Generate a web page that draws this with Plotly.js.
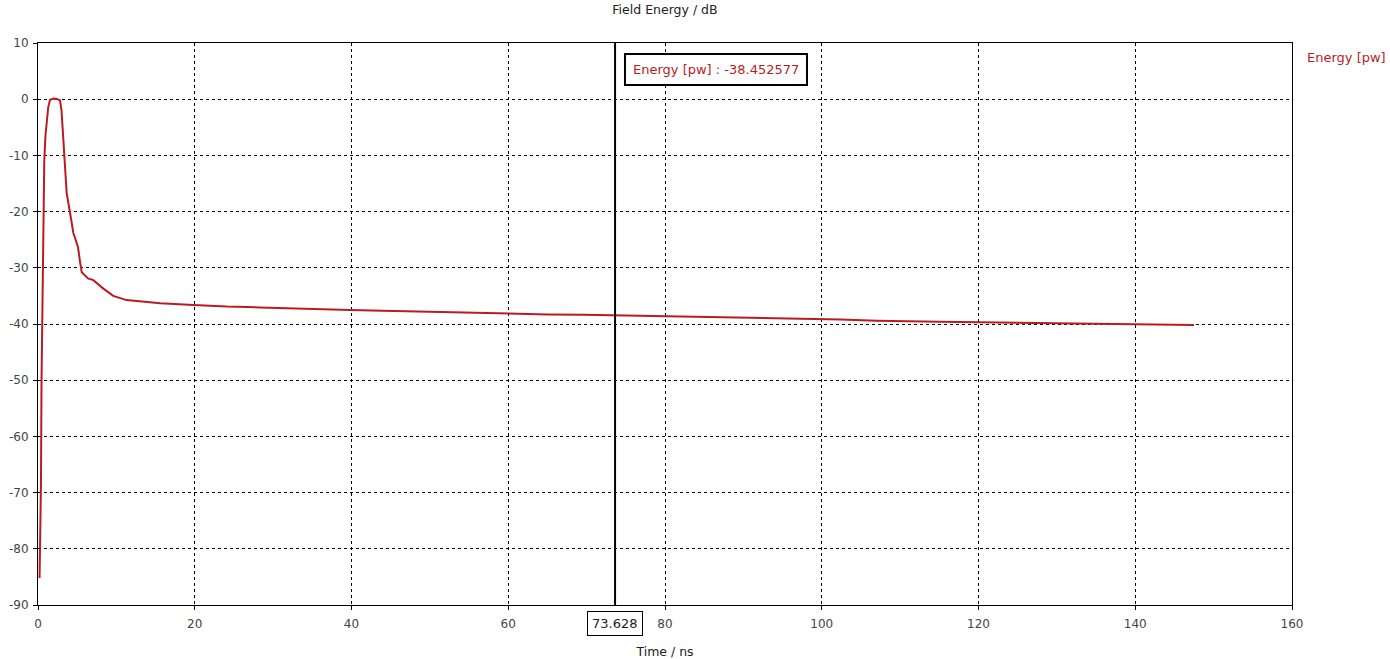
<!DOCTYPE html>
<html>
<head>
<meta charset="utf-8">
<script src="https://cdn.plot.ly/plotly-3.0.1.min.js"></script>
<style>html,body{margin:0;padding:0;background:#fff;}#chart{width:1390px;height:659px;}</style>
</head>
<body>
<div id="chart"></div>
<script>
const seriesName = "Energy [pw]";
const timeNs = [0.2, 0.3, 0.38, 0.45, 0.6, 0.8, 0.95, 1.11, 1.3, 1.53, 2.0, 2.5, 2.81, 3.0, 3.23, 3.45, 3.66, 4.0, 4.51, 4.8, 5.1, 5.35, 5.58, 6.38, 7.06, 8.34, 9.6, 11.3, 13.4, 15.6, 19.8, 24.1, 28.3, 31.3, 35.0, 39.8, 44.0, 48.3, 53.9, 57.5, 61.1, 65.0, 69.6, 73.9, 76.8, 80.0, 86.0, 93.7, 98.0, 102.4, 107.0, 111.1, 115.0, 120.1, 125.0, 130.0, 136.0, 141.0, 147.5];
const energyDb = [-85.2, -78.0, -68.3, -50.0, -28.0, -11.0, -6.5, -4.3, -1.5, -0.1, 0.1, 0.0, -0.2, -2.0, -7.3, -12.0, -16.7, -19.5, -23.8, -25.0, -26.3, -28.8, -30.8, -31.9, -32.2, -33.7, -35.0, -35.75, -36.05, -36.3, -36.6, -36.9, -37.05, -37.2, -37.35, -37.5, -37.65, -37.8, -38.0, -38.1, -38.25, -38.3, -38.35, -38.45, -38.5, -38.7, -38.8, -38.9, -39.05, -39.2, -39.4, -39.55, -39.6, -39.7, -39.8, -39.9, -40.0, -40.1, -40.2];
const cursorTime = 73.628;
const cursorLabel = "73.628";
const cursorValueText = "Energy [pw] : -38.452577";
const xTicks = [0, 20, 40, 60, 80, 100, 120, 140, 160];
const yTicks = [10, 0, -10, -20, -30, -40, -50, -60, -70, -80, -90];

const lineColor = "#b81c22";
const fontFam = "DejaVu Sans, Verdana, sans-serif";

const trace = {
  x: timeNs, y: energyDb, type: "scatter", mode: "lines",
  line: {color: lineColor, width: 2}, name: seriesName, showlegend: false
};

const axisCommon = {
  showline: true, linecolor: "#000", linewidth: 1, mirror: true,
  showgrid: true, gridcolor: "#000", griddash: "3px,3px", gridwidth: 1,
  ticks: "outside", ticklen: 4, tickcolor: "#000",
  zeroline: false, tickfont: {family: fontFam, size: 12, color: "#444"}
};

const layout = {
  width: 1390, height: 659,
  margin: {l: 38, r: 98, t: 43, b: 54},
  paper_bgcolor: "#fff", plot_bgcolor: "#fff",
  title: {text: "Field Energy / dB", font: {family: fontFam, size: 12.5, color: "#222"}, x: 0.4784, xanchor: "center", y: 0.986, yanchor: "middle"},
  xaxis: Object.assign({}, axisCommon, {range: [0, 160], tickvals: xTicks, ticktext: xTicks.map(String),
    ticklabelstandoff: 4,
    title: {text: "Time / ns", font: {family: fontFam, size: 12.5, color: "#222"}, standoff: 18}}),
  yaxis: Object.assign({}, axisCommon, {range: [-90, 10], tickvals: yTicks, ticktext: yTicks.map(String), ticklabelstandoff: 2}),
  shapes: [
    {type: "line", xref: "x", yref: "paper", x0: cursorTime, x1: cursorTime, y0: 0, y1: 1, line: {color: "#000", width: 2}}
  ],
  annotations: [
    {xref: "paper", yref: "paper", x: 1.0105, y: 0.975, xanchor: "left", yanchor: "middle", showarrow: false,
     text: seriesName, font: {family: fontFam, size: 13, color: lineColor}},
    {xref: "x", yref: "paper", x: cursorTime + 1.2, y: 0.953, xanchor: "left", yanchor: "middle", showarrow: false,
     text: cursorValueText, font: {family: fontFam, size: 13, color: lineColor},
     bordercolor: "#000", borderwidth: 2, borderpad: 7, bgcolor: "#fff"},
    {xref: "x", yref: "paper", x: cursorTime, y: -0.033, xanchor: "center", yanchor: "middle", showarrow: false,
     text: cursorLabel, font: {family: fontFam, size: 13, color: "#222"},
     bordercolor: "#000", borderwidth: 1, borderpad: 4, bgcolor: "#fff"}
  ]
};

Plotly.newPlot("chart", [trace], layout, {displayModeBar: false, staticPlot: true});
</script>
</body>
</html>
